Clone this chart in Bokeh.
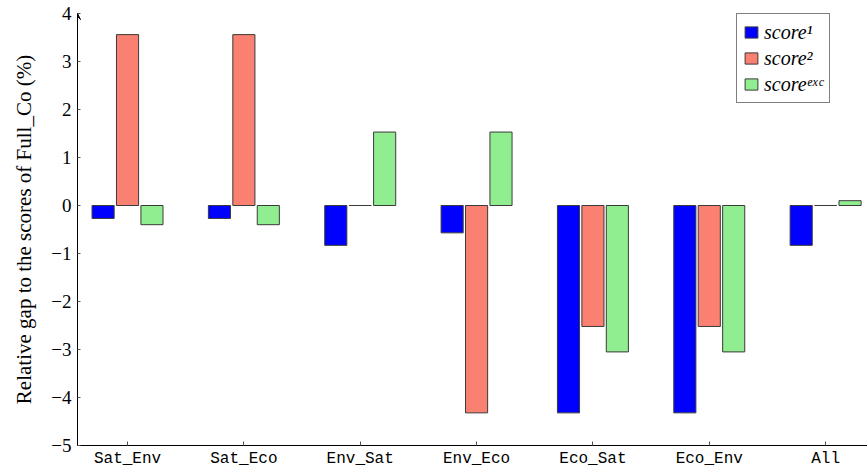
import numpy as np
from bokeh.plotting import figure
from bokeh.models import ColumnDataSource, Range1d, FixedTicker, Legend, LegendItem, Arrow, VeeHead
from bokeh.embed import file_html
from bokeh.resources import INLINE

categories = ["Sat_Env", "Sat_Eco", "Env_Sat", "Env_Eco", "Eco_Sat", "Eco_Env", "All"]
score1 = [-0.27, -0.27, -0.83, -0.57, -4.32, -4.32, -0.83]
score2 = [3.56, 3.56, 0.0, -4.32, -2.52, -2.52, 0.0]
score_exc = [-0.40, -0.40, 1.53, 1.53, -3.05, -3.05, 0.10]
series_labels = ["score\u00b9", "score\u00b2", "score\u1d49\u02e3\u1d9c"]
colors = ["#0000FF", "#FA8072", "#90EE90"]
y_ticks = [-5, -4, -3, -2, -1, 0, 1, 2, 3, 4]

pos = np.arange(len(categories)) + 0.5
offsets = [-0.21, 0.0, 0.21]
bar_w = 0.19

p = figure(width=867, height=471, output_backend="svg", toolbar_location=None,
           x_range=Range1d(0.07, 6.86), y_range=Range1d(-5, 4),
           min_border_left=77, min_border_right=0, min_border_top=13, min_border_bottom=26)
p.outline_line_color = None
p.xgrid.visible = False
p.ygrid.visible = False
p.background_fill_color = "white"

renderers = []
for vals, off, col in zip([score1, score2, score_exc], offsets, colors):
    src = ColumnDataSource(dict(x=pos + off, top=vals, bottom=[0] * len(vals)))
    r = p.vbar(x="x", top="top", bottom="bottom", width=bar_w, source=src,
               fill_color=col, line_color="#3a3a3a", line_width=1)
    renderers.append(r)

# axes
p.xaxis.ticker = FixedTicker(ticks=list(pos))
p.xaxis.major_label_overrides = {float(v): c for v, c in zip(pos, categories)}
p.xaxis.major_label_text_font = "Liberation Mono"
p.xaxis.major_label_text_font_size = "16px"
p.xaxis.major_label_text_color = "black"
p.xaxis.major_label_standoff = 4
p.xaxis.major_tick_in = 4
p.xaxis.major_tick_out = 0
p.xaxis.minor_tick_line_color = None
p.xaxis.axis_line_color = "black"
p.xaxis.major_tick_line_color = "#555555"

p.yaxis.ticker = FixedTicker(ticks=y_ticks)
p.yaxis.major_label_overrides = {t: (str(t).replace("-", "\u2212")) for t in y_ticks}
p.yaxis.major_label_text_font = "Liberation Serif"
p.yaxis.major_label_text_font_size = "19px"
p.yaxis.major_label_text_color = "black"
p.yaxis.major_label_standoff = 6
p.yaxis.major_tick_in = 3
p.yaxis.major_tick_out = 0
p.yaxis.minor_tick_line_color = None
p.yaxis.axis_line_color = "black"
p.yaxis.major_tick_line_color = "#555555"
p.yaxis.axis_label = "Relative gap to the scores of Full_Co (%)"
p.yaxis.axis_label_text_font = "Liberation Serif"
p.yaxis.axis_label_text_font_style = "normal"
p.yaxis.axis_label_text_font_size = "21px"
p.yaxis.axis_label_text_color = "black"
p.yaxis.axis_label_standoff = 12

p.add_layout(Arrow(end=VeeHead(size=6, line_color="black", line_width=1),
                   x_start=0.07, x_end=0.07, y_start=3.8, y_end=4.0,
                   line_color="black", line_width=1))

items = [LegendItem(label=lab, renderers=[r]) for lab, r in zip(series_labels, renderers)]
legend = Legend(items=items, location=(659, 342), margin=0, padding=6, spacing=2,
                label_text_font="Liberation Serif", label_text_font_style="italic",
                label_text_font_size="20px", label_text_color="black",
                glyph_width=16, glyph_height=14,
                label_height=24, label_standoff=5,
                border_line_color="black", border_line_width=1,
                background_fill_alpha=1)
p.add_layout(legend)

open("out.html", "w").write(file_html(p, INLINE))
